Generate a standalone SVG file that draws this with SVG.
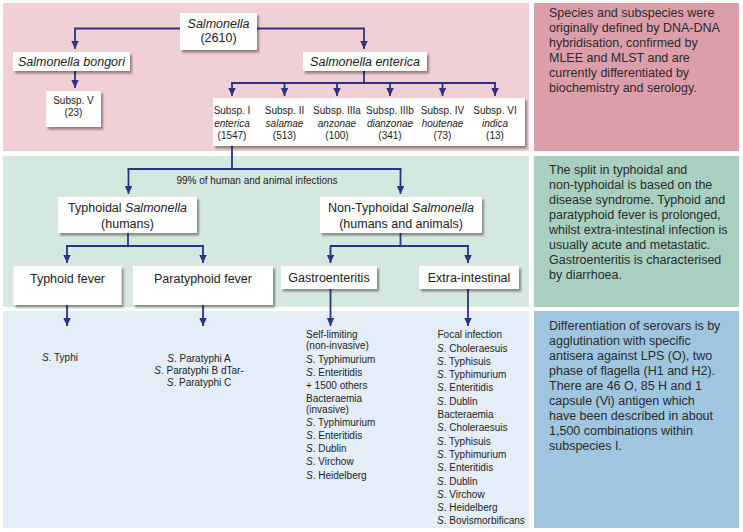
<svg xmlns="http://www.w3.org/2000/svg" width="743" height="532" viewBox="0 0 743 532">
<defs>
<filter id="sh" x="-10%" y="-10%" width="130%" height="140%">
<feDropShadow dx="2" dy="2.5" stdDeviation="1.2" flood-color="#000" flood-opacity="0.4"/>
</filter>
<marker id="ah" markerUnits="userSpaceOnUse" markerWidth="8" markerHeight="8" refX="8" refY="3.75" orient="auto">
<path d="M0,0 L8,3.75 L0,7.5 z" fill="#2d3282"/>
</marker>
<style>
text{font-family:"Liberation Sans",Arial,sans-serif;fill:#222}
.b{fill:#fff;filter:url(#sh)}
.t{font-size:12.5px;text-anchor:middle}
.s{font-size:10px;text-anchor:middle}
.l{font-size:10px}
.p{font-size:12.5px;fill:#2a2a2a}
.c path{fill:none;stroke:#2d3282;stroke-width:1.8}
.c .a{marker-end:url(#ah)}
i,.i{font-style:italic}
</style>
</defs>
<rect width="743" height="532" fill="#fff"/>
<g id="bands">
<rect x="3" y="3" width="526" height="148" fill="#f1d0d5"/>
<rect x="534" y="3" width="205" height="148" fill="#dc9faa"/>
<rect x="3" y="156" width="526" height="151" fill="#d4e8df"/>
<rect x="534" y="156" width="205" height="151" fill="#a8cfbf"/>
<rect x="3" y="311" width="526" height="217" fill="#e3eef8"/>
<rect x="534" y="311" width="205" height="217" fill="#9fc6e0"/>
</g>
<g class="c" id="connectors">
<path class="a" d="M180,28.5 H75 V49"/>
<path class="a" d="M257,28.5 H364 V49"/>
<path class="a" d="M75,71 V88"/>
<path d="M364,71 V83 M231,83 H496"/>
<path class="a" d="M232,83 V96"/>
<path class="a" d="M284.5,83 V96"/>
<path class="a" d="M337,83 V96"/>
<path class="a" d="M390,83 V96"/>
<path class="a" d="M442.5,83 V96"/>
<path class="a" d="M495,83 V96"/>
<path d="M232,146 V169 M127.5,169 H401.5"/>
<path class="a" d="M128.5,169 V194"/>
<path class="a" d="M400.5,169 V194"/>
<path d="M128,233 V246 M66,246 H204"/>
<path class="a" d="M67,246 V263"/>
<path class="a" d="M203,246 V263"/>
<path d="M400.5,233 V246 M330,246 H469"/>
<path class="a" d="M330.5,246 V263"/>
<path class="a" d="M468,246 V263"/>
<path class="a" d="M67,305 V326"/>
<path class="a" d="M203,305 V326"/>
<path class="a" d="M330.5,289 V326"/>
<path class="a" d="M468,289 V326"/>
</g>
<g id="n-salmonella">
<rect class="b" x="180" y="13" width="77" height="37"/>
<text class="t" x="218.5" y="27.5"><tspan class="i">Salmonella</tspan></text>
<text class="t" x="218.5" y="42">(2610)</text>
</g>
<g id="n-bongori">
<rect class="b" x="13" y="52" width="117" height="19"/>
<text class="t" x="71.5" y="66" font-style="italic">Salmonella bongori</text>
</g>
<g id="n-enterica">
<rect class="b" x="303" y="52" width="124" height="19"/>
<text class="t" x="365" y="66" font-style="italic">Salmonella enterica</text>
</g>
<g id="n-subspV">
<rect class="b" x="46" y="91" width="55" height="36"/>
<text class="s" x="73.5" y="104">Subsp. V</text>
<text class="s" x="73.5" y="116">(23)</text>
</g>
<g id="n-subsp">
<rect class="b" x="213" y="98" width="312" height="48"/>
<text class="s" x="232" y="114">Subsp. I</text>
<text class="s" x="232" y="126.5" font-style="italic">enterica</text>
<text class="s" x="232" y="139">(1547)</text>
<text class="s" x="284.5" y="114">Subsp. II</text>
<text class="s" x="284.5" y="126.5" font-style="italic">salamae</text>
<text class="s" x="284.5" y="139">(513)</text>
<text class="s" x="337" y="114">Subsp. IIIa</text>
<text class="s" x="337" y="126.5" font-style="italic">anzonae</text>
<text class="s" x="337" y="139">(100)</text>
<text class="s" x="390" y="114">Subsp. IIIb</text>
<text class="s" x="390" y="126.5" font-style="italic">dianzonae</text>
<text class="s" x="390" y="139">(341)</text>
<text class="s" x="442.5" y="114">Subsp. IV</text>
<text class="s" x="442.5" y="126.5" font-style="italic">houtenae</text>
<text class="s" x="442.5" y="139">(73)</text>
<text class="s" x="495" y="114">Subsp. VI</text>
<text class="s" x="495" y="126.5" font-style="italic">indica</text>
<text class="s" x="495" y="139">(13)</text>
</g>
<text class="s" x="257" y="183.5">99% of human and animal infections</text>
<g id="n-typhoidal">
<rect class="b" x="58" y="197" width="139" height="36"/>
<text class="t" x="127.5" y="212">Typhoidal <tspan font-style="italic">Salmonella</tspan></text>
<text class="t" x="127.5" y="228">(humans)</text>
</g>
<g id="n-nontyphoidal">
<rect class="b" x="320" y="197" width="162" height="36"/>
<text class="t" x="401" y="212">Non-Typhoidal <tspan font-style="italic">Salmonella</tspan></text>
<text class="t" x="401" y="228">(humans and animals)</text>
</g>
<g id="n-typhoid">
<rect class="b" x="13.5" y="266" width="108" height="39"/>
<text class="t" x="67.5" y="283">Typhoid fever</text>
</g>
<g id="n-paratyphoid">
<rect class="b" x="133" y="266" width="140" height="39"/>
<text class="t" x="203" y="283">Paratyphoid fever</text>
</g>
<g id="n-gastro">
<rect class="b" x="281" y="266" width="96" height="23"/>
<text class="t" x="329" y="282">Gastroenteritis</text>
</g>
<g id="n-extra">
<rect class="b" x="419" y="266" width="100" height="23"/>
<text class="t" x="469" y="282">Extra-intestinal</text>
</g>
<g id="typhi-list">
<text class="s" x="60" y="361"><tspan font-style="italic">S</tspan>. Typhi</text>
</g>
<g id="paratyphi-list">
<text class="s" x="199" y="361.5"><tspan font-style="italic">S</tspan>. Paratyphi A</text>
<text class="s" x="199" y="374"><tspan font-style="italic">S</tspan>. Paratyphi B dTar-</text>
<text class="s" x="199" y="386"><tspan font-style="italic">S</tspan>. Paratyphi C</text>
</g>
<g id="gastro-list" class="l">
<text class="l" x="306" y="338.2">Self-limiting</text>
<text class="l" x="306" y="348.8">(non-invasive)</text>
<text class="l" x="306" y="362.5"><tspan font-style="italic">S</tspan>. Typhimurium</text>
<text class="l" x="306" y="375.8"><tspan font-style="italic">S</tspan>. Enteritidis</text>
<text class="l" x="306" y="389.1">+ 1500 others</text>
<text class="l" x="306" y="402.4">Bacteraemia</text>
<text class="l" x="306" y="412.5">(invasive)</text>
<text class="l" x="306" y="425.5"><tspan font-style="italic">S</tspan>. Typhimurium</text>
<text class="l" x="306" y="438.8"><tspan font-style="italic">S</tspan>. Enteritidis</text>
<text class="l" x="306" y="452.1"><tspan font-style="italic">S</tspan>. Dublin</text>
<text class="l" x="306" y="465.4"><tspan font-style="italic">S</tspan>. Virchow</text>
<text class="l" x="306" y="478.7"><tspan font-style="italic">S</tspan>. Heidelberg</text>
</g>
<g id="extra-list">
<text class="l" x="437.5" y="338.2">Focal infection</text>
<text class="l" x="437" y="351.5"><tspan font-style="italic">S</tspan>. Choleraesuis</text>
<text class="l" x="437" y="364.8"><tspan font-style="italic">S</tspan>. Typhisuis</text>
<text class="l" x="437" y="378.1"><tspan font-style="italic">S</tspan>. Typhimurium</text>
<text class="l" x="437" y="391.4"><tspan font-style="italic">S</tspan>. Enteritidis</text>
<text class="l" x="437" y="404.7"><tspan font-style="italic">S</tspan>. Dublin</text>
<text class="l" x="437.5" y="418">Bacteraemia</text>
<text class="l" x="437" y="431.3"><tspan font-style="italic">S</tspan>. Choleraesuis</text>
<text class="l" x="437" y="444.6"><tspan font-style="italic">S</tspan>. Typhisuis</text>
<text class="l" x="437" y="457.9"><tspan font-style="italic">S</tspan>. Typhimurium</text>
<text class="l" x="437" y="471.2"><tspan font-style="italic">S</tspan>. Enteritidis</text>
<text class="l" x="437" y="484.5"><tspan font-style="italic">S</tspan>. Dublin</text>
<text class="l" x="437" y="497.8"><tspan font-style="italic">S</tspan>. Virchow</text>
<text class="l" x="437" y="511.1"><tspan font-style="italic">S</tspan>. Heidelberg</text>
<text class="l" x="437" y="524.4"><tspan font-style="italic">S</tspan>. Bovismorbificans</text>
</g>
<g id="note-pink">
<text class="p" x="549" y="17.2">Species and subspecies were</text>
<text class="p" x="549" y="32.2">originally defined by DNA-DNA</text>
<text class="p" x="549" y="47.2">hybridisation, confirmed by</text>
<text class="p" x="549" y="62.2">MLEE and MLST and are</text>
<text class="p" x="549" y="77.2">currently differentiated by</text>
<text class="p" x="549" y="92.2">biochemistry and serology.</text>
</g>
<g id="note-green">
<text class="p" x="549" y="173.8">The split in typhoidal and</text>
<text class="p" x="549" y="188.8">non-typhoidal is based on the</text>
<text class="p" x="549" y="203.8">disease syndrome. Typhoid and</text>
<text class="p" x="549" y="218.8">paratyphoid fever is prolonged,</text>
<text class="p" x="549" y="233.8">whilst extra-intestinal infection is</text>
<text class="p" x="549" y="248.8">usually acute and metastatic.</text>
<text class="p" x="549" y="263.8">Gastroenteritis is characterised</text>
<text class="p" x="549" y="278.8">by diarrhoea.</text>
</g>
<g id="note-blue">
<text class="p" x="549" y="329.5">Differentiation of serovars is by</text>
<text class="p" x="549" y="344.5">agglutination with specific</text>
<text class="p" x="549" y="359.5">antisera against LPS (O), two</text>
<text class="p" x="549" y="374.5">phase of flagella (H1 and H2).</text>
<text class="p" x="549" y="389.5">There are 46 O, 85 H and 1</text>
<text class="p" x="549" y="404.5">capsule (Vi) antigen which</text>
<text class="p" x="549" y="419.5">have been described in about</text>
<text class="p" x="549" y="434.5">1,500 combinations within</text>
<text class="p" x="549" y="449.5">subspecies I.</text>
</g>
</svg>
